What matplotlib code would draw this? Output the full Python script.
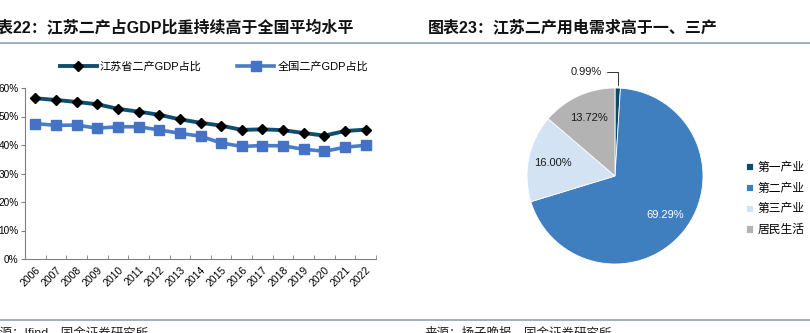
import matplotlib
matplotlib.use('Agg')
import matplotlib.pyplot as plt
import numpy as np

plt.rcParams['font.family'] = ['Liberation Sans', 'Noto Sans CJK SC', 'DejaVu Sans']
plt.rcParams['axes.unicode_minus'] = False

# 江苏与全国二产占GDP比重
years = [str(y) for y in range(2006, 2023)]
jiangsu = [56.4, 55.8, 55.1, 54.3, 52.7, 51.7, 50.6, 49.0, 47.8, 46.8,
           45.3, 45.5, 45.2, 44.2, 43.3, 44.9, 45.4]
national = [47.5, 46.9, 47.0, 45.9, 46.4, 46.4, 45.3, 44.1, 43.1, 40.7,
            39.5, 39.8, 39.7, 38.5, 37.8, 39.2, 39.9]

# 江苏用电结构
sectors = ['第一产业', '第二产业', '第三产业', '居民生活']
shares = [0.99, 69.29, 16.00, 13.72]
pie_colors = ['#0B4A6B', '#3F7EBF', '#D3E3F3', '#B3B3B3']

W, H = 810, 333
fig = plt.figure(figsize=(W / 100, H / 100), dpi=100)


def fx(px):
    return px / W


def fy(py):
    return 1 - py / H


# 标题、分隔线、来源
fig.text(fx(-18), fy(27), '图表22：江苏二产占GDP比重持续高于全国平均水平',
         fontsize=11.5, fontweight='semibold', va='center', ha='left', color='#111111')
fig.text(fx(428), fy(27), '图表23：江苏二产用电需求高于一、三产',
         fontsize=11.5, fontweight='semibold', va='center', ha='left', color='#111111')
fig.add_artist(plt.Line2D([0, 1], [fy(42.7)] * 2, color='#8FA3B3', lw=1.2))
fig.add_artist(plt.Line2D([0, 1], [fy(320)] * 2, color='#8FA3B3', lw=1.2))
fig.text(fx(-12), fy(327), '来源：Ifind，国金证券研究所', fontsize=9, va='top', color='#222222')
fig.text(fx(425), fy(327), '来源：扬子晚报，国金证券研究所', fontsize=9, va='top', color='#222222')

# 折线图
ax = fig.add_axes([fx(25), fy(259), fx(376) - fx(25), fy(88) - fy(259)])
x = np.arange(len(years))
ax.plot(x, jiangsu, color='#0E4F70', lw=2.8, marker='D', ms=5.5,
        mfc='black', mec='black', label='江苏省二产GDP占比')
ax.plot(x, national, color='#4A7CC9', lw=2.6, marker='s', ms=7,
        mfc='#4472C4', mec='#4472C4', label='全国二产GDP占比')
ax.set_xlim(-0.5, len(years) - 0.5)
ax.set_ylim(0, 60)
ax.set_yticks(range(0, 61, 10))
ax.set_yticklabels([f'{v}%' for v in range(0, 61, 10)], fontsize=7.2)
ax.set_xticks(x)
ax.set_xticklabels(years, rotation=45, ha='right', rotation_mode='anchor', fontsize=7.5)
ax.set_xticks(np.arange(-0.5, len(years)), minor=True)
ax.tick_params(axis='x', which='major', length=0, pad=4)
ax.tick_params(axis='x', which='minor', direction='in', length=3, color='#808080')
ax.tick_params(axis='y', direction='out', length=3, color='#808080', pad=1.5)
for s in ['top', 'right']:
    ax.spines[s].set_visible(False)
for s in ['left', 'bottom']:
    ax.spines[s].set_color('#808080')
    ax.spines[s].set_linewidth(0.8)
ax.legend(loc='center left', bbox_to_anchor=(fx(60), fy(66.7)), bbox_transform=fig.transFigure,
          ncol=2, frameon=False, fontsize=8, handlelength=3.3, handletextpad=0.3,
          columnspacing=3.2, borderpad=0, borderaxespad=0)

# 饼图
cx, cy, r = 615, 176, 88
ax2 = fig.add_axes([fx(cx - 1.25 * r), fy(cy + 1.25 * r), 2.5 * r / W, 2.5 * r / H])
wedges, texts, autotexts = ax2.pie(
    shares, colors=pie_colors, startangle=90, counterclock=False,
    autopct=lambda p: f'{p:.2f}%' if p >= 1 else '', pctdistance=0.72,
    wedgeprops=dict(edgecolor='white', linewidth=0.6),
    textprops=dict(fontsize=8, color='#1a1a1a'))
autotexts[1].set_color('white')
ax2.set_xlim(-1.25, 1.25)
ax2.set_ylim(-1.25, 1.25)

# 第一产业占比很小，引线标注
mid = np.deg2rad(90 - shares[0] / sum(shares) * 180)
ex, ey = np.cos(mid), np.sin(mid)
ax2.annotate(f'{shares[0]:.2f}%', xy=(ex, ey), xytext=(-0.15, 1.18),
             fontsize=8, color='#1a1a1a', ha='right', va='center',
             arrowprops=dict(arrowstyle='-', color='#333333', lw=0.7,
                             connectionstyle='angle,angleA=0,angleB=90,rad=0'))

fig.legend(wedges, sectors, loc='center left', bbox_to_anchor=(fx(746), fy(199)),
           frameon=False, fontsize=8.5, handlelength=0.6, handleheight=0.6,
           handletextpad=0.4, labelspacing=0.75, borderpad=0, borderaxespad=0)

fig.savefig('out.png', dpi=100)
